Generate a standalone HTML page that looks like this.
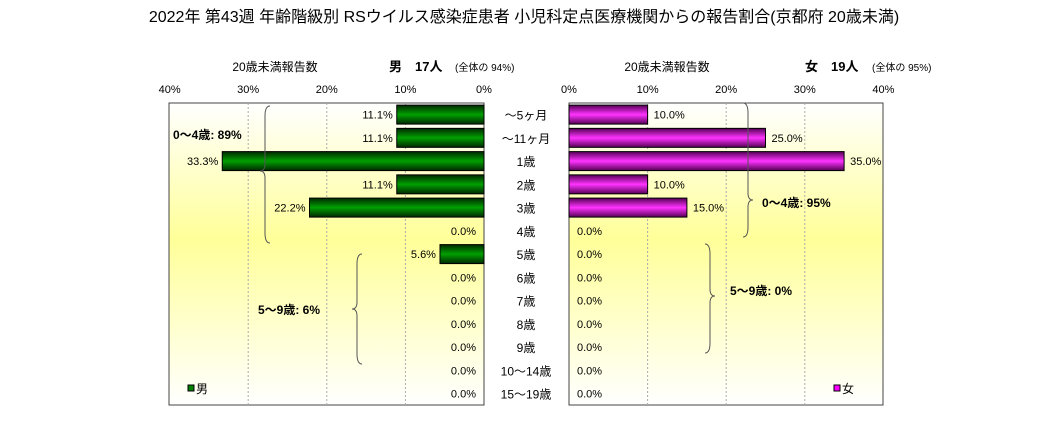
<!DOCTYPE html>
<html><head><meta charset="utf-8"><style>
body{margin:0;background:#fff;}
svg{display:block;font-family:"Liberation Sans","Noto Sans CJK JP",sans-serif;}
</style></head><body>
<svg id="c" width="1048" height="443">
<defs>
<linearGradient id="bg" x1="0" y1="0" x2="0" y2="1">
<stop offset="0" stop-color="#ffffff"/><stop offset="0.45" stop-color="#ffff99"/><stop offset="1" stop-color="#ffffff"/></linearGradient>
<linearGradient id="gm" x1="0" y1="0" x2="0" y2="1">
<stop offset="0" stop-color="#002800"/><stop offset="0.5" stop-color="#00a000"/><stop offset="1" stop-color="#002800"/></linearGradient>
<linearGradient id="gf" x1="0" y1="0" x2="0" y2="1">
<stop offset="0" stop-color="#550055"/><stop offset="0.5" stop-color="#ff33ff"/><stop offset="1" stop-color="#550055"/></linearGradient>
</defs>
<text x="524" y="22" text-anchor="middle" font-size="16">2022年 第43週 年齢階級別 RSウイルス感染症患者 小児科定点医療機関からの報告割合(京都府 20歳未満)</text>
<rect x="169" y="103" width="315" height="302" fill="url(#bg)" stroke="#444"/>
<rect x="569" y="103" width="314" height="302" fill="url(#bg)" stroke="#444"/>
<g id="g"></g>
<text x="275" y="71" text-anchor="middle" font-size="12">20歳未満報告数</text>
<text x="389" y="71" font-size="13" font-weight="bold">男　17人</text>
<text x="455" y="71" font-size="10">(全体の 94%)</text>
<text x="667" y="71" text-anchor="middle" font-size="12">20歳未満報告数</text>
<text x="805" y="71" font-size="13" font-weight="bold">女　19人</text>
<text x="872" y="71" font-size="10">(全体の 95%)</text>
<path d="M270,106 q-5,0 -5,10 v48 q0,7 -5,7 q5,0 5,7 v55 q0,10 5,10" fill="none" stroke="#555"/>
<text x="173" y="139" font-size="12" font-weight="bold">0〜4歳: 89%</text>
<path d="M362,254 q-5,0 -5,10 v38 q0,7 -5,7 q5,0 5,7 v38 q0,10 5,10" fill="none" stroke="#555"/>
<text x="258" y="314" font-size="12" font-weight="bold">5〜9歳: 6%</text>
<path d="M743,103 q5,0 5,10 v80 q0,7 5,7 q-5,0 -5,7 v20 q0,10 -5,10" fill="none" stroke="#555"/>
<text x="762" y="207" font-size="12" font-weight="bold">0〜4歳: 95%</text>
<path d="M705,244 q5,0 5,10 v35 q0,7 5,7 q-5,0 -5,7 v40 q0,10 -5,10" fill="none" stroke="#555"/>
<text x="730" y="295" font-size="12" font-weight="bold">5〜9歳: 0%</text>
<rect x="188" y="385" width="6" height="6" fill="#008000" stroke="#000"/>
<text x="196" y="393" font-size="12">男</text>
<rect x="834" y="385" width="6" height="6" fill="#ff00ff" stroke="#000"/>
<text x="842" y="393" font-size="12">女</text>
</svg>
<script>
const categories=["〜5ヶ月","〜11ヶ月","1歳","2歳","3歳","4歳","5歳","6歳","7歳","8歳","9歳","10〜14歳","15〜19歳"];
const maleValues=[11.1,11.1,33.3,11.1,22.2,0,5.6,0,0,0,0,0,0];
const femaleValues=[10,25,35,10,15,0,0,0,0,0,0,0,0];
const tickValues=[0,10,20,30,40];
const NS="http://www.w3.org/2000/svg";
const g=document.getElementById('g');
const maleX=v=>484-v*7.86;
const femX=v=>569+v*7.86;
const rowY=i=>103+i*23.25+11.6;
function mk(t,a,txt){const e=document.createElementNS(NS,t);for(const k in a)e.setAttribute(k,a[k]);if(txt!=null)e.textContent=txt;g.appendChild(e);return e;}
tickValues.forEach(v=>{
  if(v>0&&v<40){
    const l1=mk('line',{x1:maleX(v),x2:maleX(v),y1:103,y2:405,stroke:'#aaa','stroke-dasharray':'2,2'});
    
    
    const l2=mk('line',{x1:femX(v),x2:femX(v),y1:103,y2:405,stroke:'#aaa','stroke-dasharray':'2,2'});
    
    
  }
  const t1=mk('text',{x:maleX(v),y:93,'text-anchor':'middle','font-size':11},v+'%');
  
  
  const t2=mk('text',{x:femX(v),y:93,'text-anchor':'middle','font-size':11},v+'%');
  
  
});
categories.forEach((c,i)=>{
  const y=rowY(i);
  const ct=mk('text',{x:526,y:y+5,'text-anchor':'middle','font-size':12},c);
  
  
  const mv=maleValues[i];
  if(mv>0){
    const r=mk('rect',{x:maleX(mv),y:y-9.5,width:484-maleX(mv),height:19,fill:'url(#gm)',stroke:'#000'});
    
    
  }
  const ml=mk('text',{x:mv>0?maleX(mv)-4:476,y:y+4,'text-anchor':'end','font-size':11},mv.toFixed(1)+'%');
  
  
  const fv=femaleValues[i];
  if(fv>0){
    const r=mk('rect',{x:569,y:y-9.5,width:femX(fv)-569,height:19,fill:'url(#gf)',stroke:'#000'});
    
    
  }
  const fl=mk('text',{x:fv>0?femX(fv)+6:577,y:y+4,'font-size':11},fv.toFixed(1)+'%');
  
  
});
</script>
</body></html>
